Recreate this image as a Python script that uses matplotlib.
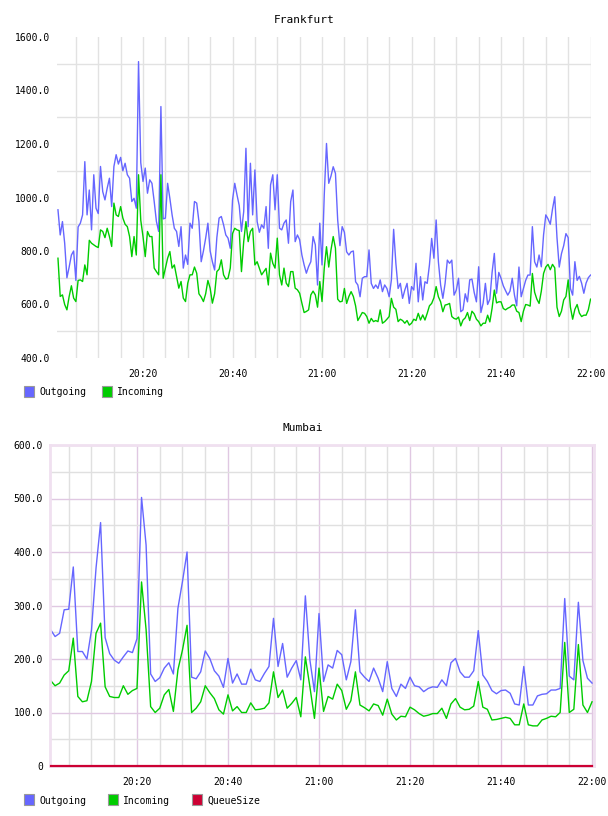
import numpy as np
import pandas as pd
import matplotlib
matplotlib.use("Agg")
import matplotlib.pyplot as plt
import matplotlib.dates as mdates
from matplotlib.patches import Rectangle
from matplotlib.ticker import FixedLocator, FuncFormatter

matplotlib.rcParams["font.family"] = "DejaVu Sans Mono"

BLUE = "#6666ff"
GREEN = "#00cc00"
RED = "#cc0033"

# Frankfurt, 30 s samples from 20:01 to 22:00
fra_out = [954, 860, 910, 829, 700, 740, 785, 800, 690, 890, 904, 935, 1134, 935, 1028,
           879, 1085, 960, 940, 1116, 1022, 991, 1035, 1072, 966, 1116, 1160, 1125, 1150, 1100,
           1128, 1085, 1072, 985, 997, 960, 1508, 1130, 1060, 1110, 1016, 1066, 1053, 985, 910,
           873, 1340, 920, 923, 1053, 997, 935, 885, 873, 817, 891, 736, 785,
           750, 904, 885, 985, 979, 910, 760, 800, 848, 904, 800, 760, 729, 850, 923, 929,
           898, 860, 848, 810, 990, 1053, 1010, 970, 873, 947, 1184, 891, 1128, 935, 1103, 910,
           870, 898, 885, 966, 810, 1047, 1085, 954, 1085, 885, 879, 904, 916, 829, 985, 1028,
           835, 860, 842, 785, 748, 717, 742, 760, 854, 823, 673, 904, 748, 1010,
           1202, 1053, 1080, 1115, 1090, 916, 820, 891, 870, 797, 785, 797, 800, 685, 673, 629,
           698, 704, 704, 804, 679, 660, 673, 660, 692, 648, 673, 660, 629, 692, 881, 754, 660,
           679, 623, 654, 679, 604, 667, 654, 754, 610, 704, 617, 685, 679, 748, 847, 773, 916,
           760, 673, 623, 679, 766, 754, 766, 635, 654, 698, 573,
           580, 640, 610, 692, 695, 645, 610, 741, 570, 605, 679, 600, 620, 720, 791, 642, 720,
           698, 670, 652, 635, 650, 698, 635, 595, 740, 629, 660, 690, 710, 710, 891, 760, 740,
           785, 741, 860, 935, 920, 900, 957, 1003, 850, 740, 790, 820, 865, 850, 660, 635, 760,
           690, 705, 680, 642, 680, 700, 710]
fra_in = [773, 630, 636, 600, 580, 630, 670, 624, 611, 690, 692, 686, 748, 711, 840,
          829, 823, 817, 813, 879, 873, 850, 885, 854, 817, 979, 935, 929, 966, 923,
          900, 891, 854, 779, 854, 785, 1085, 915, 854, 779, 873, 854, 854, 736, 723,
          711, 1085, 698, 736, 773, 798, 736, 748, 705, 661, 686, 624, 611,
          680, 711, 711, 740, 717, 640, 628, 611, 640, 690, 661, 605, 640, 723, 732, 767,
          711, 695, 698, 736, 865, 885, 879, 876, 723, 835, 910, 835, 873, 885, 748, 760,
          735, 711, 723, 735, 673, 792, 754, 736, 848, 711, 673, 736, 680, 667, 723, 723,
          661, 655, 642, 605, 570, 574, 580, 636, 650, 636, 590, 686, 611, 736,
          816, 740, 804, 854, 810, 620, 610, 612, 660, 604, 630, 648, 630, 595, 540, 555,
          570, 567, 555, 530, 548, 536, 540, 536, 580, 530, 536, 545, 555, 623, 590, 582, 536,
          545, 540, 530, 540, 523, 530, 545, 540, 567, 542, 561, 542, 567, 595, 604, 625, 667,
          629, 610, 573, 598, 600, 604, 555, 548, 545, 553, 520,
          542, 550, 570, 540, 575, 565, 545, 536, 520, 530, 530, 560, 535, 586, 654, 606, 610,
          610, 585, 580, 586, 590, 598, 598, 575, 570, 536, 575, 600, 598, 594, 716, 646, 620,
          604, 650, 716, 740, 750, 730, 750, 737, 590, 555, 575, 617, 630, 692, 590, 545, 582,
          600, 568, 555, 560, 560, 580, 620]

# Mumbai, 1 min samples from 20:01 to 22:00
mum_out = [255, 242, 248, 292, 293, 372, 214, 214, 200, 254, 370, 455, 240, 210, 198,
           192, 204, 215, 212, 238, 502, 413, 172, 158, 165, 183, 193, 172, 295, 345,
           400, 166, 163, 176, 215, 201, 178, 168, 147, 201, 155, 172, 153, 153, 181,
           161, 158, 173, 186, 276, 186, 229, 166, 183, 197, 161, 318, 198, 139, 285,
           158, 189, 183, 216, 208, 161, 195, 292, 176, 166, 158, 183, 164, 139, 195,
           145, 130, 153, 145, 166, 150, 148, 139, 145, 148, 147, 161, 150, 193, 201,
           176, 166, 166, 178, 253, 170, 158, 141, 135, 141, 142, 136, 116, 114, 186,
           114, 114, 131, 134, 135, 142, 142, 145, 313, 168, 161, 306, 197, 164, 155]
mum_in = [160, 150, 155, 170, 178, 239, 130, 120, 122, 158, 248, 267, 148, 130, 128,
          128, 150, 134, 141, 145, 344, 255, 111, 100, 108, 133, 143, 102, 180, 217,
          263, 100, 108, 120, 150, 137, 126, 105, 97, 133, 103, 111, 100, 100, 118,
          105, 106, 108, 118, 176, 128, 142, 108, 117, 128, 92, 204, 148, 89, 183,
          102, 130, 125, 153, 141, 106, 122, 176, 114, 109, 103, 116, 113, 95, 125,
          97, 86, 93, 92, 110, 105, 98, 93, 95, 98, 98, 108, 89, 116, 126,
          110, 105, 106, 112, 158, 110, 106, 86, 87, 89, 91, 89, 77, 77, 116,
          77, 75, 75, 86, 89, 93, 92, 100, 231, 100, 106, 227, 114, 100, 120]
mum_queue = [0] * 120

fra_t = pd.date_range("2024-01-01 20:01:00", periods=len(fra_out), freq="30s")
mum_t = pd.date_range("2024-01-01 20:01:00", periods=len(mum_out), freq="60s")

W, H = 608, 816
fig = plt.figure(figsize=(W / 100, H / 100), dpi=100)


def box(x0, y0, x1, y1):
    return [x0 / W, 1 - y1 / H, (x1 - x0) / W, (y1 - y0) / H]


def legend(y, items):
    for x, label, color in items:
        fig.patches.append(Rectangle((x / W, 1 - (y + 5) / H), 10 / W, 11 / H,
                                     transform=fig.transFigure, facecolor=color,
                                     edgecolor="#999999", linewidth=0.8))
        fig.text((x + 15) / W, 1 - (y + 0.5) / H, label, fontsize=7, va="center", ha="left")


time_fmt = mdates.DateFormatter("%H:%M")

# ---- Frankfurt
ax1 = fig.add_axes(box(57, 37, 591, 358))
ax1.plot(fra_t, fra_out, color=BLUE, lw=1.0)
ax1.plot(fra_t, fra_in, color=GREEN, lw=1.0)
ax1.set_ylim(400, 1600)
ax1.set_xlim(pd.Timestamp("2024-01-01 20:00:47"), pd.Timestamp("2024-01-01 22:00:06"))
ax1.yaxis.set_major_locator(FixedLocator(np.arange(400, 1601, 200)))
ax1.yaxis.set_minor_locator(FixedLocator(np.arange(500, 1600, 200)))
ax1.yaxis.set_major_formatter(FuncFormatter(lambda v, p: "%.1f" % v))
ax1.xaxis.set_major_locator(mdates.MinuteLocator(byminute=[0, 20, 40]))
ax1.xaxis.set_minor_locator(mdates.MinuteLocator(byminute=range(0, 60, 5)))
ax1.xaxis.set_major_formatter(time_fmt)
ax1.grid(True, axis="x", which="both", color="#e2e2e2", lw=1.0)
ax1.grid(True, axis="y", which="minor", color="#e2e2e2", lw=1.0)
ax1.set_axisbelow(True)
for s in ax1.spines.values():
    s.set_visible(False)
ax1.tick_params(which="both", length=0, labelsize=7)
ax1.tick_params(axis="y", pad=5)
ax1.tick_params(axis="x", pad=8)
fig.text(304 / W, 1 - 20 / H, "Frankfurt", fontsize=8, ha="center", va="center")
legend(392, [(24, "Outgoing", BLUE), (102, "Incoming", GREEN)])

# ---- Mumbai
ax2 = fig.add_axes(box(50, 445, 594, 766))
ax2.plot(mum_t, mum_out, color=BLUE, lw=1.0)
ax2.plot(mum_t, mum_in, color=GREEN, lw=1.0)
ax2.plot(mum_t, mum_queue, color=RED, lw=1.6, clip_on=False, zorder=5)
ax2.set_ylim(0, 600)
ax2.set_xlim(pd.Timestamp("2024-01-01 20:00:53"), pd.Timestamp("2024-01-01 22:00:26"))
ax2.yaxis.set_major_locator(FixedLocator(np.arange(0, 601, 100)))
ax2.yaxis.set_minor_locator(FixedLocator(np.arange(50, 600, 100)))
ax2.yaxis.set_major_formatter(FuncFormatter(lambda v, p: "0" if v == 0 else "%.1f" % v))
ax2.xaxis.set_major_locator(mdates.MinuteLocator(byminute=[0, 20, 40]))
ax2.xaxis.set_minor_locator(mdates.MinuteLocator(byminute=range(0, 60, 5)))
ax2.xaxis.set_major_formatter(time_fmt)
ax2.grid(True, which="major", color="#e0c8e2", lw=1.0)
ax2.grid(True, which="minor", color="#e0e0e0", lw=1.0)
ax2.set_axisbelow(True)
for s in ax2.spines.values():
    s.set_color("#f0e0f0")
    s.set_linewidth(2)
ax2.tick_params(which="both", length=0, labelsize=7)
ax2.tick_params(axis="y", pad=5)
ax2.tick_params(axis="x", pad=8)
fig.text(303 / W, 1 - 428 / H, "Mumbai", fontsize=8, ha="center", va="center")
legend(800, [(24, "Outgoing", BLUE), (108, "Incoming", GREEN), (192, "QueueSize", RED)])

fig.savefig("out.png", dpi=100)
